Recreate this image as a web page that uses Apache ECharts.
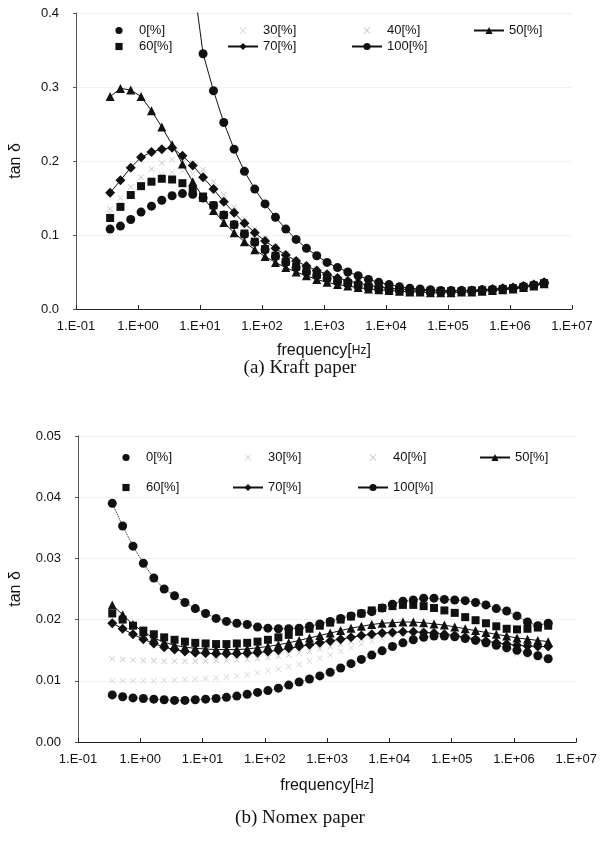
<!DOCTYPE html>
<html lang="en">
<head>
<meta charset="UTF-8">
<title>tan delta vs frequency</title>
<script src="https://cdn.jsdelivr.net/npm/echarts@6/dist/echarts.min.js"></script>
</head>
<body style="margin:0;background:#fff">
<div id="main" style="width:600px;height:841px;"></div>
<script>
// frequency sweep, 6 points per decade [Hz]
var freq = [0.355, 0.521, 0.764, 1.12, 1.65, 2.42, 3.55, 5.21, 7.64,
  11.2, 16.5, 24.2, 35.5, 52.1, 76.4, 112, 165, 242, 355, 521, 764,
  1120, 1650, 2420, 3550, 5210, 7640, 11200, 16500, 24200, 35500, 52100, 76400,
  112000, 165000, 242000, 355000, 521000, 764000, 1120000, 1650000, 2420000, 3550000];

var names = ['0[%]', '30[%]', '40[%]', '50[%]', '60[%]', '70[%]', '100[%]'];

// (a) Kraft paper
var kraft0 = [0.108, 0.112, 0.121, 0.131, 0.139, 0.147, 0.153, 0.156, 0.155, 0.150, 0.140, 0.127, 0.114, 0.101, 0.090, 0.080, 0.071, 0.063, 0.056, 0.050, 0.045, 0.041, 0.037, 0.034, 0.031, 0.029, 0.027, 0.026, 0.025, 0.024, 0.024, 0.023, 0.023, 0.023, 0.024, 0.024, 0.025, 0.026, 0.027, 0.028, 0.030, 0.032, 0.035];
var kraft30 = [0.130, 0.142, 0.155, 0.166, 0.175, 0.181, 0.185, 0.186, 0.183, 0.176, 0.163, 0.148, 0.133, 0.118, 0.105, 0.093, 0.083, 0.074, 0.066, 0.059, 0.053, 0.048, 0.043, 0.039, 0.036, 0.033, 0.031, 0.029, 0.027, 0.026, 0.025, 0.024, 0.024, 0.024, 0.024, 0.025, 0.026, 0.027, 0.028, 0.029, 0.031, 0.033, 0.035];
var kraft40 = [0.135, 0.150, 0.165, 0.178, 0.189, 0.197, 0.202, 0.203, 0.198, 0.188, 0.172, 0.155, 0.138, 0.122, 0.108, 0.096, 0.085, 0.075, 0.067, 0.060, 0.054, 0.048, 0.044, 0.040, 0.036, 0.033, 0.031, 0.029, 0.027, 0.026, 0.025, 0.025, 0.024, 0.024, 0.025, 0.025, 0.026, 0.027, 0.028, 0.029, 0.031, 0.033, 0.036];
var kraft50 = [0.287, 0.298, 0.296, 0.287, 0.268, 0.246, 0.222, 0.196, 0.172, 0.151, 0.133, 0.117, 0.103, 0.091, 0.080, 0.071, 0.063, 0.056, 0.050, 0.045, 0.040, 0.036, 0.033, 0.031, 0.029, 0.027, 0.026, 0.025, 0.024, 0.023, 0.023, 0.022, 0.022, 0.022, 0.023, 0.023, 0.024, 0.025, 0.026, 0.027, 0.029, 0.031, 0.034];
var kraft60 = [0.123, 0.138, 0.154, 0.166, 0.172, 0.176, 0.175, 0.170, 0.162, 0.152, 0.140, 0.127, 0.114, 0.102, 0.091, 0.081, 0.072, 0.064, 0.057, 0.051, 0.046, 0.042, 0.038, 0.035, 0.032, 0.030, 0.028, 0.026, 0.025, 0.024, 0.024, 0.024, 0.024, 0.024, 0.024, 0.025, 0.025, 0.026, 0.027, 0.028, 0.030, 0.032, 0.035];
var kraft70 = [0.157, 0.174, 0.191, 0.205, 0.212, 0.216, 0.218, 0.207, 0.194, 0.178, 0.162, 0.145, 0.130, 0.116, 0.103, 0.092, 0.082, 0.073, 0.065, 0.058, 0.052, 0.047, 0.042, 0.038, 0.035, 0.032, 0.030, 0.028, 0.027, 0.026, 0.025, 0.025, 0.024, 0.024, 0.025, 0.025, 0.026, 0.027, 0.028, 0.029, 0.031, 0.033, 0.036];
var kraft100 = [null, null, null, null, null, null, null, null, 0.45, 0.345, 0.295, 0.252, 0.216, 0.186, 0.162, 0.142, 0.124, 0.108, 0.094, 0.082, 0.072, 0.063, 0.056, 0.050, 0.045, 0.040, 0.036, 0.033, 0.030, 0.028, 0.027, 0.026, 0.025, 0.025, 0.025, 0.025, 0.026, 0.026, 0.027, 0.028, 0.030, 0.032, 0.035];

// (b) Nomex paper
var nomex0 = [0.0077, 0.0074, 0.0072, 0.0071, 0.0070, 0.0069, 0.0068, 0.0068, 0.0069, 0.0070, 0.0071, 0.0073, 0.0075, 0.0078, 0.0081, 0.0084, 0.0088, 0.0093, 0.0098, 0.0103, 0.0108, 0.0114, 0.0121, 0.0128, 0.0135, 0.0142, 0.0149, 0.0156, 0.0162, 0.0167, 0.0171, 0.0173, 0.0173, 0.0172, 0.0169, 0.0166, 0.0162, 0.0158, 0.0154, 0.0150, 0.0146, 0.0141, 0.0136];
var nomex30 = [0.0100, 0.0100, 0.0100, 0.0100, 0.0100, 0.0101, 0.0101, 0.0102, 0.0103, 0.0104, 0.0105, 0.0106, 0.0108, 0.0110, 0.0113, 0.0116, 0.0119, 0.0123, 0.0127, 0.0132, 0.0137, 0.0142, 0.0148, 0.0154, 0.0160, 0.0165, 0.0169, 0.0173, 0.0176, 0.0178, 0.0178, 0.0177, 0.0175, 0.0172, 0.0168, 0.0163, 0.0158, 0.0154, 0.0148, 0.0144, 0.0140, 0.0137, 0.0135];
var nomex40 = [0.0136, 0.0135, 0.0134, 0.0133, 0.0133, 0.0132, 0.0132, 0.0132, 0.0132, 0.0132, 0.0133, 0.0133, 0.0134, 0.0135, 0.0136, 0.0138, 0.0140, 0.0142, 0.0145, 0.0148, 0.0152, 0.0156, 0.0160, 0.0164, 0.0168, 0.0172, 0.0175, 0.0178, 0.0180, 0.0181, 0.0181, 0.0180, 0.0178, 0.0175, 0.0171, 0.0167, 0.0162, 0.0157, 0.0153, 0.0149, 0.0146, 0.0143, 0.0141];
var nomex50 = [0.0224, 0.0208, 0.0192, 0.0180, 0.0170, 0.0163, 0.0158, 0.0155, 0.0153, 0.0152, 0.0151, 0.0151, 0.0151, 0.0152, 0.0154, 0.0156, 0.0159, 0.0162, 0.0166, 0.0170, 0.0174, 0.0178, 0.0182, 0.0186, 0.0189, 0.0192, 0.0194, 0.0195, 0.0196, 0.0196, 0.0195, 0.0193, 0.0191, 0.0188, 0.0185, 0.0182, 0.0179, 0.0176, 0.0173, 0.0170, 0.0168, 0.0166, 0.0164];
var nomex60 = [0.0210, 0.0200, 0.0190, 0.0182, 0.0176, 0.0171, 0.0167, 0.0164, 0.0162, 0.0161, 0.0160, 0.0160, 0.0161, 0.0162, 0.0164, 0.0167, 0.0171, 0.0175, 0.0180, 0.0185, 0.0190, 0.0195, 0.0200, 0.0205, 0.0210, 0.0215, 0.0219, 0.0222, 0.0224, 0.0224, 0.0222, 0.0219, 0.0215, 0.0211, 0.0204, 0.0199, 0.0194, 0.0189, 0.0185, 0.0184, 0.0185, 0.0187, 0.0190];
var nomex70 = [0.0194, 0.0185, 0.0176, 0.0168, 0.0161, 0.0155, 0.0151, 0.0148, 0.0146, 0.0145, 0.0144, 0.0144, 0.0144, 0.0145, 0.0146, 0.0148, 0.0150, 0.0153, 0.0156, 0.0159, 0.0162, 0.0165, 0.0168, 0.0171, 0.0174, 0.0176, 0.0178, 0.0179, 0.0180, 0.0180, 0.0179, 0.0178, 0.0176, 0.0174, 0.0171, 0.0168, 0.0165, 0.0162, 0.0160, 0.0158, 0.0157, 0.0156, 0.0156];
var nomex100 = [0.0390, 0.0353, 0.0320, 0.0292, 0.0268, 0.0250, 0.0239, 0.0228, 0.0218, 0.0210, 0.0202, 0.0197, 0.0194, 0.0192, 0.0188, 0.0186, 0.0185, 0.0185, 0.0186, 0.0189, 0.0193, 0.0197, 0.0202, 0.0206, 0.0210, 0.0213, 0.0219, 0.0225, 0.0230, 0.0232, 0.0235, 0.0235, 0.0233, 0.0232, 0.0231, 0.0228, 0.0224, 0.0218, 0.0214, 0.0206, 0.0196, 0.0190, 0.0194];

var kraft = [kraft0, kraft30, kraft40, kraft50, kraft60, kraft70, kraft100];
var nomex = [nomex0, nomex30, nomex40, nomex50, nomex60, nomex70, nomex100];

var cross = 'path://M0,1L1,0L5,4L9,0L10,1L6,5L10,9L9,10L5,6L1,10L0,9L4,5Z';
var looks = [
  { symbol: 'circle', size: 9, color: '#111', line: 0.7, type: 'dotted', op: [0, 0.8] },
  { symbol: cross, size: 6, color: '#dadada', line: 1, type: 'solid', op: [0, 0] },
  { symbol: cross, size: 6, color: '#cdcdcd', line: 1, type: 'solid', op: [0, 0] },
  { symbol: 'triangle', size: 9, color: '#111', line: 1, type: 'solid', op: [1, 1] },
  { symbol: 'rect', size: 8, color: '#111', line: 1, type: 'solid', op: [0, 0] },
  { symbol: 'diamond', size: 10, color: '#111', line: 1, type: 'solid', op: [1, 1] },
  { symbol: 'circle', size: 9, color: '#111', line: 1, type: 'solid', op: [1, 1] }
];

function pairs(vals) {
  var out = [];
  for (var i = 0; i < freq.length; i++) {
    if (vals[i] != null) out.push([freq[i], vals[i]]);
  }
  return out;
}

var series = [];
[kraft, nomex].forEach(function (set, g) {
  // gray ones first so the black markers sit on top
  [1, 2, 0, 4, 3, 5, 6].forEach(function (i) {
    var lk = looks[i];
    series.push({
      name: names[i],
      type: 'line',
      xAxisIndex: g,
      yAxisIndex: g,
      symbol: lk.symbol,
      symbolSize: lk.size,
      showAllSymbol: true,
      itemStyle: { color: lk.color },
      lineStyle: { color: lk.color, width: lk.line, type: g === 1 && i === 6 ? 'dotted' : lk.type, opacity: lk.op[g] },
      z: i === 1 || i === 2 ? 1 : 3,
      animation: false,
      data: pairs(set[i])
    });
  });
});

function expLabel(v) {
  var e = Math.round(Math.log10(v));
  var a = Math.abs(e);
  return '1.E' + (e < 0 ? '-' : '+') + (a < 10 ? '0' : '') + a;
}

var labelFont = { fontFamily: 'Liberation Sans', fontSize: 13, color: '#111' };

function xAxis(g) {
  return {
    type: 'log', logBase: 10, min: 0.1, max: 1e7, splitNumber: 8, gridIndex: g,
    name: 'frequency[{s|Hz}]', nameLocation: 'middle', nameGap: g ? 36 : 34,
    nameTextStyle: { fontFamily: 'Liberation Sans', fontSize: 16, color: '#111',
      rich: { s: { fontFamily: 'Liberation Sans', fontSize: 12, color: '#111' } } },
    axisLine: { lineStyle: { color: '#222', width: 1 } },
    axisTick: { inside: true, length: 4, lineStyle: { color: '#222' } },
    minorTick: { show: false },
    splitLine: { show: false },
    axisLabel: Object.assign({ margin: 11, formatter: expLabel }, labelFont)
  };
}

function yAxis(g) {
  return {
    type: 'value', gridIndex: g, min: 0, max: g ? 0.05 : 0.4, interval: g ? 0.01 : 0.1,
    name: 'tan δ', nameLocation: 'middle', nameGap: g ? 54 : 52,
    nameTextStyle: { fontFamily: 'Liberation Sans', fontSize: 16, color: '#111' },
    axisLine: { show: true, lineStyle: { color: '#555', width: 1 } },
    axisTick: { show: true, length: 3, lineStyle: { color: '#555' } },
    splitLine: { show: true, lineStyle: { color: '#e2e2e2', type: 'dotted' } },
    axisLabel: Object.assign({ margin: 17, formatter: function (v) { return v.toFixed(g ? 2 : 1); } }, labelFont)
  };
}

// legend placement: 4 columns, 2 rows, per chart
var legendCols = [[98, 222, 346, 468], [105, 227, 352, 474]];
var legendRows = [[19, 35], [446, 476]];
var legendSlots = [[0, 0], [0, 1], [0, 2], [0, 3], [1, 0], [1, 1], [1, 2]];
var legends = [];
[0, 1].forEach(function (g) {
  names.forEach(function (n, i) {
    var slot = legendSlots[i];
    legends.push({
      left: legendCols[g][slot[1]], top: legendRows[g][slot[0]],
      itemWidth: 30, itemHeight: 9, itemGap: 0,
      data: [n],
      textStyle: { fontFamily: 'Liberation Sans', fontSize: 13, color: '#111' }
    });
  });
});

var chart = echarts.init(document.getElementById('main'));
chart.setOption({
  backgroundColor: '#fff',
  animation: false,
  grid: [
    { left: 70, top: 13, width: 502, height: 296 },
    { left: 72, top: 436, width: 506, height: 306 }
  ],
  xAxis: [xAxis(0), xAxis(1)],
  yAxis: [yAxis(0), yAxis(1)],
  legend: legends,
  graphic: [
    { type: 'text', left: 'center', top: 359, style: { text: '(a) Kraft paper', font: '19px "Liberation Serif"', fill: '#111' } },
    { type: 'text', left: 'center', top: 809, style: { text: '(b) Nomex paper', font: '19px "Liberation Serif"', fill: '#111' } }
  ],
  series: series
});
</script>
</body>
</html>
